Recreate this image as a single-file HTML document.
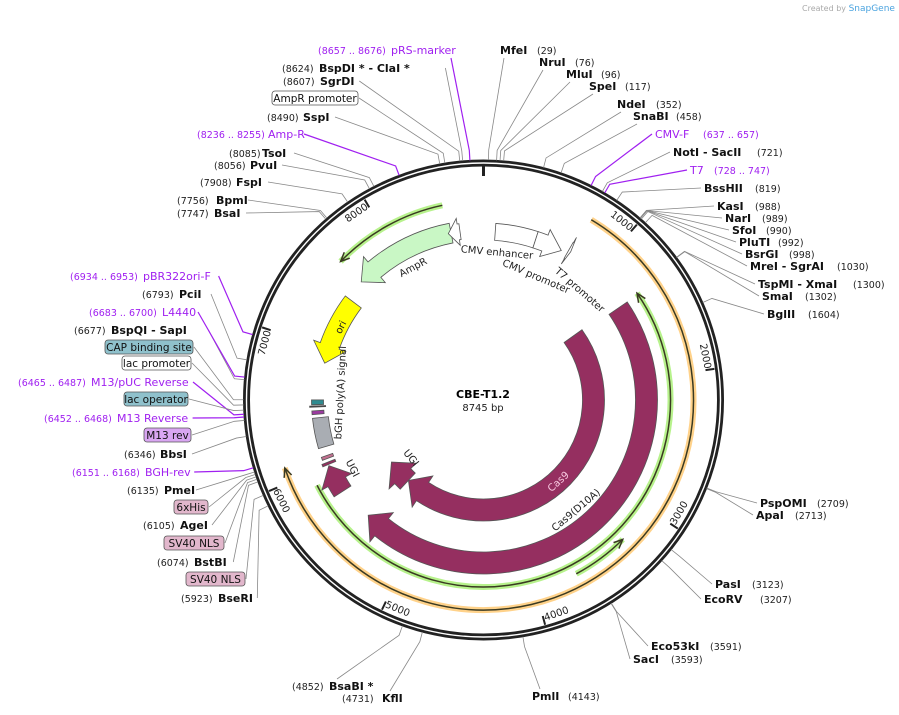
<!DOCTYPE html>
<html><head><meta charset="utf-8"><style>
html,body{margin:0;padding:0;background:#fff;}
svg{display:block;font-family:"DejaVu Sans","Liberation Sans",sans-serif;}
</style></head><body>
<svg id="map" width="899" height="715" viewBox="0 0 899 715" xmlns="http://www.w3.org/2000/svg">
<text x="802" y="11" font-size="8" fill="#aaa">Created by <tspan fill="#4aa3df" font-size="9">SnapGene</tspan></text>
<g id="features"></g>
<g id="ring"></g>
<g id="sites"></g>
<text x="483" y="398" text-anchor="middle" font-size="11" font-weight="bold">CBE-T1.2</text>
<text x="483" y="411" text-anchor="middle" font-size="10" fill="#222">8745 bp</text>
</svg>
<script>
const TOTAL = 8745;
const tickValues = [1000,2000,3000,4000,5000,6000,7000,8000];
// features: name, start bp, end bp, rOuter, rInner, fill, direction (1 fwd, -1 rev, 0 none)
const featNames = ["AmpR","white-arrow","CMV enhancer","CMV promoter","T7 promoter","ori","bGH poly(A) signal","Cas9(D10A)","Cas9","UGI-inner","UGI-outer","lac-op-box","m13-box","lac-line","nls-box-1","nls-box-2"];
const featStart = [8478,8552,97,437,720,7457,6160,1353,1324,5418,5758,6520,6440,6500,6060,6010];
const featEnd   = [7628,8455,437,668,740,6876,6410,5466,5418,5733,6000,6560,6470,6510,6085,6030];
const featROut  = [180,178,177,177,181,173,172,174,121,122,178,172,172,174,172,174];
const featRIn   = [160,162,160,160,163,153,156,152,99,100,158,160,160,158,160,160];
const featFill  = ["#c9f7c5","#ffffff","#ffffff","#ffffff","#ffffff","#ffff00","#a9adb3","#952f60","#952f60","#952f60","#952f60","#2f8a8f","#9b3aa0","#333333","#c2708f","#952f60"];
const featDir   = [-1,-1,0,1,1,-1,0,1,1,1,1,0,0,0,0,0];
// thin line features (primers/regions)
const lineStart = [750,5900,3690,8455];
const lineEnd   = [6100,1340,3280,7630];
const lineR     = [210,187,197,199];
const lineGlow  = ["#ffd28a","#b7f28c","#b7f28c","#b7f28c"];
const lineDir   = [1,-1,-1,-1];
// restriction sites / labels
const siteNames = ["MfeI","NruI","MluI","SpeI","NdeI","SnaBI","CMV-F","NotI  - SacII","T7","BssHII","KasI","NarI","SfoI","PluTI","BsrGI","MreI  - SgrAI","TspMI  - XmaI","SmaI","BglII","PspOMI","ApaI","PasI","EcoRV","Eco53kI","SacI","PmlI",
"BsaBI *","KflI","BseRI","BstBI","AgeI","PmeI","BGH-rev","BbsI","M13 Reverse","M13/pUC Reverse","BspQI  - SapI","L4440","PciI","pBR322ori-F","BsaI","BpmI","FspI","PvuI","TsoI","Amp-R","SspI","SgrDI","BspDI *  - ClaI *","pRS-marker"];
const siteBp = [29,76,96,117,352,458,647,721,737,819,988,989,990,992,998,1030,1300,1302,1604,2709,2713,3123,3207,3591,3593,4143,
4852,4731,5923,6074,6105,6135,6160,6346,6460,6476,6677,6692,6793,6943,7747,7756,7908,8056,8085,8245,8490,8607,8624,8666];
const siteNumText = ["(29)","(76)","(96)","(117)","(352)","(458)","(637 .. 657)","(721)","(728 .. 747)","(819)","(988)","(989)","(990)","(992)","(998)","(1030)","(1300)","(1302)","(1604)","(2709)","(2713)","(3123)","(3207)","(3591)","(3593)","(4143)",
"(4852)","(4731)","(5923)","(6074)","(6105)","(6135)","(6151 .. 6168)","(6346)","(6452 .. 6468)","(6465 .. 6487)","(6677)","(6683 .. 6700)","(6793)","(6934 .. 6953)","(7747)","(7756)","(7908)","(8056)","(8085)","(8236 .. 8255)","(8490)","(8607)","(8624)","(8657 .. 8676)"];
const siteNameX = [500,539,566,589,617,633,655,673,690,704,717,725,732,739,745,750,758,762,767,760,756,715,704,651,633,532,
329,382,218,194,180,164,145,160,117,91,111,162,179,143,214,216,236,250,262,268,303,320,319,391];
const siteNumX = [537,575,601,625,656,676,703,757,714,755,755,762,766,778,789,837,853,805,808,817,795,752,760,710,671,568,
292,342,181,157,143,127,72,124,44,18,74,89,142,70,177,177,200,214,229,197,267,283,282,318];
const siteY = [54,66,78,90,108,120,138,156,174,192,210,222,234,246,258,270,288,300,318,507,519,588,603,650,663,700,
690,702,602,566,529,494,476,458,422,386,334,316,298,280,217,204,186,169,157,138,121,85,72,54];
const siteSide = ["t","t","t","t","t","t","r","r","r","r","r","r","r","r","r","r","r","r","r","r","r","r","r","r","r","b",
"b","b","l","l","l","l","l","l","l","l","l","l","l","l","l","l","l","l","l","l","l","l","l","t"];
const sitePurple = ["CMV-F","T7","BGH-rev","M13 Reverse","M13/pUC Reverse","L4440","pBR322ori-F","Amp-R","pRS-marker"];
// boxed feature labels
const boxText = ["AmpR promoter","CAP binding site","lac promoter","lac operator","M13 rev","6xHis","SV40 NLS","SV40 NLS"];
const boxBp = [8520,6560,6530,6500,6440,6120,6090,5990];
const boxX = [272,105,122,124,144,174,164,186];
const boxY = [91,340,356,392,428,500,536,572];
const boxW = [86,88,69,64,47,34,60,59];
const boxFill = ["#ffffff","#8fc1cc","#ffffff","#8fc1cc","#d9a6f2","#e2b7cc","#e2b7cc","#e2b7cc"];

const CX=483.5, CY=400, R=238;
const NS="http://www.w3.org/2000/svg";
const ang = bp => bp/TOTAL*2*Math.PI;
const pt = (r,a) => [CX + r*Math.sin(a), CY - r*Math.cos(a)];
function mk(tag, attrs, parent){const e=document.createElementNS(NS,tag);for(const k in attrs)e.setAttribute(k,attrs[k]);parent.appendChild(e);return e;}
function arc(r,a1,a2,sweep){
  const p=pt(r,a2); let d=sweep?(a2-a1):(a1-a2); if(d<0)d+=2*Math.PI;
  return `A${r},${r} 0 ${d>Math.PI?1:0} ${sweep} ${p[0].toFixed(2)},${p[1].toFixed(2)}`;}
const M = p => `M${p[0].toFixed(2)},${p[1].toFixed(2)}`;
const L = p => `L${p[0].toFixed(2)},${p[1].toFixed(2)}`;
function rotFor(deg){return (deg>95&&deg<250)?deg-180:(deg>=250?deg-360:deg);}

const fg=document.getElementById('features');
for(let i=0;i<lineStart.length;i++){
  let a1=ang(lineStart[i]), a2=ang(lineEnd[i]); const r=lineR[i];
  let sw = lineDir[i]>0?1:0;
  const d = M(pt(r,a1))+arc(r,a1,a2,sw);
  const g = mk('g',{},fg);
  
  
  mk('path',{d:d,fill:'none',stroke:lineGlow[i],'stroke-width':6},g);
  mk('path',{d:d,fill:'none',stroke:'#3a3a22','stroke-width':1.5},g);
  const h=9/r, s=lineDir[i]>0?-1:1;
  const tip=pt(r,a2), b1=pt(r+4,a2+s*h), b2=pt(r-4,a2+s*h);
  mk('path',{d:M(b1)+L(tip)+L(b2),fill:'none',stroke:'#3a3a22','stroke-width':1.5},g);
}
for(let i=0;i<featStart.length;i++){
  let a1=ang(featStart[i]), a2=ang(featEnd[i]); const ro=featROut[i], ri=featRIn[i], rm=(ro+ri)/2, w=ro-ri;
  let d;
  if(featDir[i]===0){
    d=M(pt(ro,a1))+arc(ro,a1,a2,1)+L(pt(ri,a2))+arc(ri,a2,a1,0)+'Z';
  } else {
    const sw=featDir[i]>0?1:0, s=featDir[i]>0?-1:1;
    let span=featDir[i]>0?(a2-a1):(a1-a2); if(span<0)span+=2*Math.PI;
    let h=Math.min(18/rm, span*0.85);
    const ab=a2+s*h;
    d=M(pt(ro,a1))+arc(ro,a1,ab,sw)+L(pt(ro+w*0.35,ab))+L(pt(rm,a2))+L(pt(ri-w*0.35,ab))+L(pt(ri,ab))+arc(ri,ab,a1,1-sw)+'Z';
  }
  const p=mk('path',{d:d,fill:featFill[i],stroke:'#555','stroke-width':0.8},fg);
  
  
}
function arcText(txt, bp, r, size, fill, name){
  const a=ang(bp), p=pt(r,a); let deg=a*180/Math.PI;
  let rot = rotFor(deg);
  const t=mk('text',{x:p[0],y:p[1],'font-size':size,fill:fill,'text-anchor':'middle','dominant-baseline':'middle',transform:`rotate(${rot.toFixed(1)} ${p[0].toFixed(1)} ${p[1].toFixed(1)})`},fg);
  t.textContent=txt;
  
  
}
arcText("AmpR",8065,150,10,"#222","ampr-label");
arcText("CMV enhancer",127,148,10,"#222","cmv-enhancer-label");
arcText("CMV promoter",560,134,10,"#222","cmv-promoter-label");
arcText("T7 promoter",1000,146,10,"#222","t7-promoter-label");
arcText("ori",7215,160,10,"#222","ori-label");
arcText("bGH poly(A) signal",6630,143,10,"#222","bgh-label");
arcText("UGI",5620,93,10,"#222","ugi-inner-label");
arcText("UGI",5890,148,10,"#222","ugi-outer-label");
arcText("Cas9",3340,111,10,"#f8c8e0","cas9-label");
arcText("Cas9(D10A)",3400,144,10,"#222","cas9-d10a-label");

const rg=document.getElementById('ring');
let c=mk('circle',{cx:CX,cy:CY,r:R-1,fill:'none',stroke:'#222','stroke-width':7},rg);


mk('circle',{cx:CX,cy:CY,r:R-1,fill:'none',stroke:'#fff','stroke-width':1.4},rg);
let t0=mk('line',{x1:CX,y1:CY-R+4,x2:CX,y2:CY-R+14,stroke:'#222','stroke-width':3},rg);


for(let i=0;i<tickValues.length;i++){
  const a=ang(tickValues[i]); const p1=pt(R-5,a), p2=pt(R-14,a);
  const l=mk('line',{x1:p1[0],y1:p1[1],x2:p2[0],y2:p2[1],stroke:'#222','stroke-width':2},rg);
  
  
  const ta=a-3.5*Math.PI/180, p=pt(226,ta); let deg=ta*180/Math.PI;
  let rot=rotFor(deg);
  const t=mk('text',{x:p[0],y:p[1],'font-size':10,fill:'#222','text-anchor':'middle','dominant-baseline':'middle',transform:`rotate(${rot.toFixed(1)} ${p[0].toFixed(1)} ${p[1].toFixed(1)})`},rg);
  t.textContent=tickValues[i];
  
  
}

const sg=document.getElementById('sites');
function leader(bp, cx, cy, col){
  const a=ang(bp), p1=pt(R+2,a), p2=pt(R+12,a);
  return mk('path',{d:M(p1)+L(p2)+`L${cx},${cy}`,fill:'none',stroke:col,'stroke-width':col==='#888'?0.8:1.2},sg);
}
const measure=(s,sz,bold)=>s.length*sz*(bold?0.66:0.6);
for(let i=0;i<siteNames.length;i++){
  const purple=sitePurple.includes(siteNames[i]);
  const col=purple?'#a020f0':'#111';
  const y=siteY[i], side=siteSide[i];
  let cx,cy;
  if(side==='r'){cx=siteNameX[i]-3;cy=y-4;}
  else if(side==='l'){cx=siteNameX[i]+measure(siteNames[i],11,!purple)+3;cy=y-4;}
  else if(side==='t'){cx=(siteNameX[i]<483?siteNameX[i]+measure(siteNames[i],11,!purple)-6:siteNameX[i]+4);cy=y+4;}
  else {cx=siteNameX[i]+8;cy=y-11;}
  const ln=leader(siteBp[i],cx.toFixed(1),cy,purple?'#a020f0':'#888');
  
  
  const g=mk('g',{},sg);
  
  
  const tn=mk('text',{x:siteNameX[i],y:y,'font-size':11,'font-weight':purple?'normal':'bold',fill:col,'xml:space':'preserve'},g);
  tn.textContent=siteNames[i];
  const tb=mk('text',{x:siteNumX[i],y:y,'font-size':9.5,fill:purple?'#a020f0':'#222'},g);
  tb.textContent=siteNumText[i];
}
for(let i=0;i<boxText.length;i++){
  const y=boxY[i];
  const ln=leader(boxBp[i],boxX[i]+boxW[i]+1,y+7,'#888');
  
  
  const g=mk('g',{},sg);
  
  
  mk('rect',{x:boxX[i],y:y,width:boxW[i],height:14,rx:3,fill:boxFill[i],stroke:'#555','stroke-width':0.8},g);
  const t=mk('text',{x:boxX[i]+boxW[i]/2,y:y+11,'font-size':10.5,'text-anchor':'middle',fill:'#111'},g);
  t.textContent=boxText[i];
}
</script>
</body></html>
